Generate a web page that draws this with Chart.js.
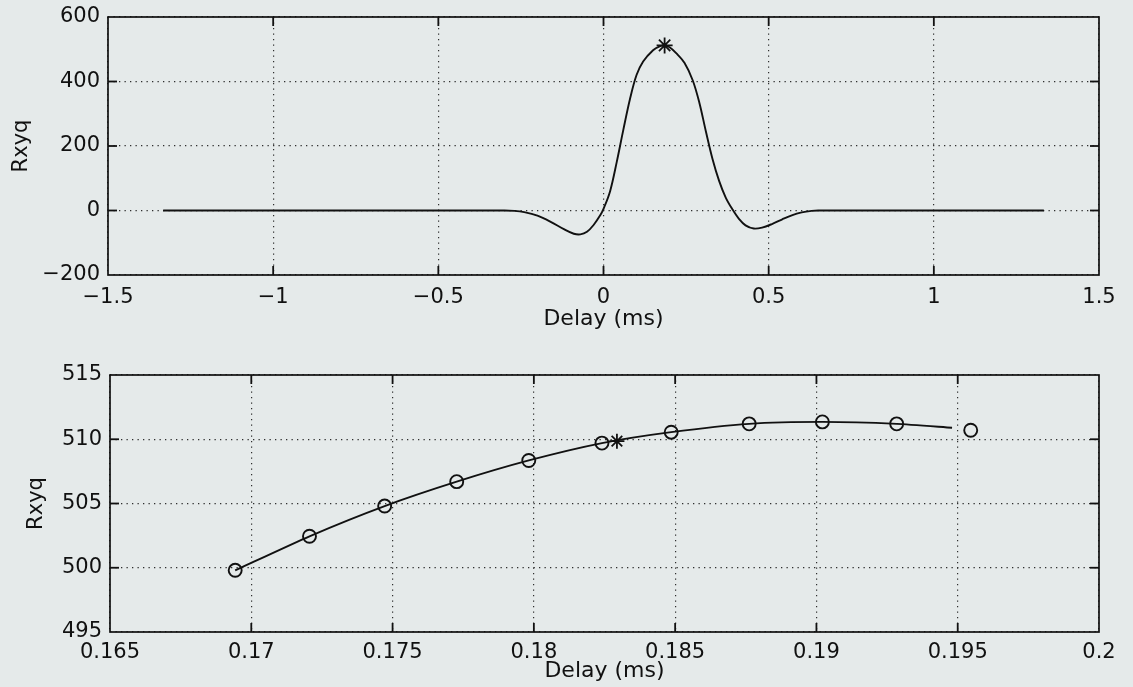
<!DOCTYPE html>
<html><head><meta charset="utf-8">
<script src="https://cdn.jsdelivr.net/npm/chart.js@4.4.1/dist/chart.umd.min.js"></script>
<style>
html,body{margin:0;padding:0;background:#e5eaea;}
#wrap{position:relative;width:1133px;height:687px;overflow:hidden;background:#e5eaea;}
#c1{position:absolute;left:0;top:0;}
#c2{position:absolute;left:0;top:340px;}
</style></head><body>
<div id="wrap"><canvas id="c1" width="1133" height="340"></canvas><canvas id="c2" width="1133" height="347"></canvas></div>
<script>
// ---- top panel: envelope cross-correlation ----
const topDelay = [-1.333,-0.30,-0.27,-0.24,-0.20,-0.16,-0.12,-0.09,-0.07,-0.05,-0.03,-0.01,0.0,0.02,0.04,0.06,0.08,0.10,0.12,0.15,0.17,0.185,0.20,0.22,0.245,0.27,0.29,0.31,0.33,0.35,0.37,0.39,0.41,0.43,0.455,0.48,0.51,0.54,0.57,0.60,0.63,0.65,1.333];
const topRxyq  = [0,0,-1,-5,-16,-35,-58,-72,-74,-66,-45,-15,5,60,150,250,345,420,462,497,509,512,506,488,458,404,335,245,160,92,40,4,-26,-46,-56,-53,-42,-28,-15,-6,-1,0,0];
const topPeakDelay = [0.185];
const topPeakRxyq = [512];
const topXTicks = [-1.5,-1,-0.5,0,0.5,1,1.5];
const topYTicks = [-200,0,200,400,600];

// ---- bottom panel: zoom around the peak ----
const zoomLineDelay = [0.16943,0.17206,0.17472,0.17727,0.17982,0.18241,0.18486,0.18762,0.19021,0.19284,0.1948];
const zoomLineRxyq  = [499.8,502.45,504.8,506.7,508.35,509.7,510.55,511.2,511.35,511.2,510.9];
const zoomCircleDelay = [0.16943,0.17206,0.17472,0.17727,0.17982,0.18241,0.18486,0.18762,0.19021,0.19284,0.19546];
const zoomCircleRxyq  = [499.8,502.45,504.8,506.7,508.35,509.7,510.55,511.2,511.35,511.2,510.7];
const zoomPeakDelay = [0.18294];
const zoomPeakRxyq = [509.85];
const zoomXTicks = [0.165,0.17,0.175,0.18,0.185,0.19,0.195,0.2];
const zoomYTicks = [495,500,505,510,515];

const INK = '#111111';
const FONT = 'DejaVu Sans';

function fmt(v){ return String(Number(v.toFixed(4))).replace('-', '\u2212'); }
function pts(xs, ys){ return xs.map((x,i)=>({x:x, y:ys[i]})); }

const framePlugin = {
  id:'frame',
  afterDraw(chart){
    const ctx = chart.ctx, a = chart.chartArea;
    ctx.save();
    ctx.setLineDash([]);
    ctx.strokeStyle = INK; ctx.lineWidth = 1.7;
    ctx.strokeRect(a.left, a.top, a.right-a.left, a.bottom-a.top);
    ctx.lineWidth = 1.8;
    const L = 9;
    const xs = chart.scales.x, ys = chart.scales.y;
    const xv = xs.ticks.map(t=>t.value), yv = ys.ticks.map(t=>t.value);
    xv.forEach(v=>{
      const p = xs.getPixelForValue(v);
      if (!(p > a.left+1 && p < a.right-1)) return;
      ctx.beginPath(); ctx.moveTo(p, a.bottom); ctx.lineTo(p, a.bottom-L); ctx.stroke();
      ctx.beginPath(); ctx.moveTo(p, a.top); ctx.lineTo(p, a.top+L); ctx.stroke();
    });
    yv.forEach(v=>{
      const p = ys.getPixelForValue(v);
      if (!(p > a.top+1 && p < a.bottom-1)) return;
      ctx.beginPath(); ctx.moveTo(a.left, p); ctx.lineTo(a.left+L, p); ctx.stroke();
      ctx.beginPath(); ctx.moveTo(a.right, p); ctx.lineTo(a.right-L, p); ctx.stroke();
    });
    ctx.restore();
  }
};

function makeScales(xmin,xmax,xTicks,ymin,ymax,yTicks,yw,xh,xTickPad,xTitlePad,yTitlePad){
  const grid = {color:'#2e2e2e', lineWidth:1.2, drawTicks:false};
  return {
    x:{type:'linear', min:xmin, max:xmax,
       afterBuildTicks:s=>{ s.ticks = xTicks.map(v=>({value:v})); },
       afterFit:s=>{ s.height = xh; s.paddingLeft = 0; s.paddingRight = 0; },
       grid:grid, border:{display:false, dash:[1.3,4.2]},
       ticks:{color:INK, font:{family:FONT, size:21}, padding:xTickPad, maxRotation:0, autoSkip:false, callback:v=>fmt(v)},
       title:{display:true, text:'Delay (ms)', color:INK, font:{family:FONT, size:22}, padding:xTitlePad}},
    y:{type:'linear', min:ymin, max:ymax,
       afterBuildTicks:s=>{ s.ticks = yTicks.map(v=>({value:v})); },
       afterFit:s=>{ s.width = yw; s.paddingTop = 0; s.paddingBottom = 0; },
       grid:grid, border:{display:false, dash:[1.3,4.2]},
       ticks:{color:INK, font:{family:FONT, size:21}, padding:8, autoSkip:false, callback:v=>fmt(v)},
       title:{display:true, text:'Rxyq', color:INK, font:{family:FONT, size:21}, padding:yTitlePad}}
  };
}

Chart.defaults.animation = false;

new Chart(document.getElementById('c1'), {
  type:'scatter',
  data:{datasets:[
    {data:pts(topDelay, topRxyq), showLine:true, borderColor:INK, borderWidth:1.9, pointRadius:0, tension:0.35, fill:false},
    {data:pts(topPeakDelay, topPeakRxyq), showLine:false, pointStyle:'star', pointRadius:8, borderColor:INK, borderWidth:1.8, backgroundColor:'transparent'}
  ]},
  options:{responsive:false, animation:false,
    layout:{padding:{top:17, right:34, bottom:0, left:0}},
    plugins:{legend:{display:false}, tooltip:{enabled:false}},
    scales: makeScales(-1.5,1.5,topXTicks,-200,600,topYTicks,108,65,10,{top:0,bottom:8},{top:9,bottom:0})
  },
  plugins:[framePlugin]
});

new Chart(document.getElementById('c2'), {
  type:'scatter',
  data:{datasets:[
    {data:pts(zoomLineDelay, zoomLineRxyq), showLine:true, borderColor:INK, borderWidth:1.9, pointRadius:0, tension:0.2, fill:false},
    {data:pts(zoomCircleDelay, zoomCircleRxyq), showLine:false, pointStyle:'circle', pointRadius:6.5, borderColor:INK, borderWidth:1.9, backgroundColor:'transparent'},
    {data:pts(zoomPeakDelay, zoomPeakRxyq), showLine:false, pointStyle:'star', pointRadius:7.5, borderColor:INK, borderWidth:1.8, backgroundColor:'transparent'}
  ]},
  options:{responsive:false, animation:false,
    layout:{padding:{top:35, right:34, bottom:0, left:0}},
    plugins:{legend:{display:false}, tooltip:{enabled:false}},
    scales: makeScales(0.165,0.2,zoomXTicks,495,515,zoomYTicks,110,55,8,{top:0,bottom:3},{top:24,bottom:0})
  },
  plugins:[framePlugin]
});
</script>
</body></html>
